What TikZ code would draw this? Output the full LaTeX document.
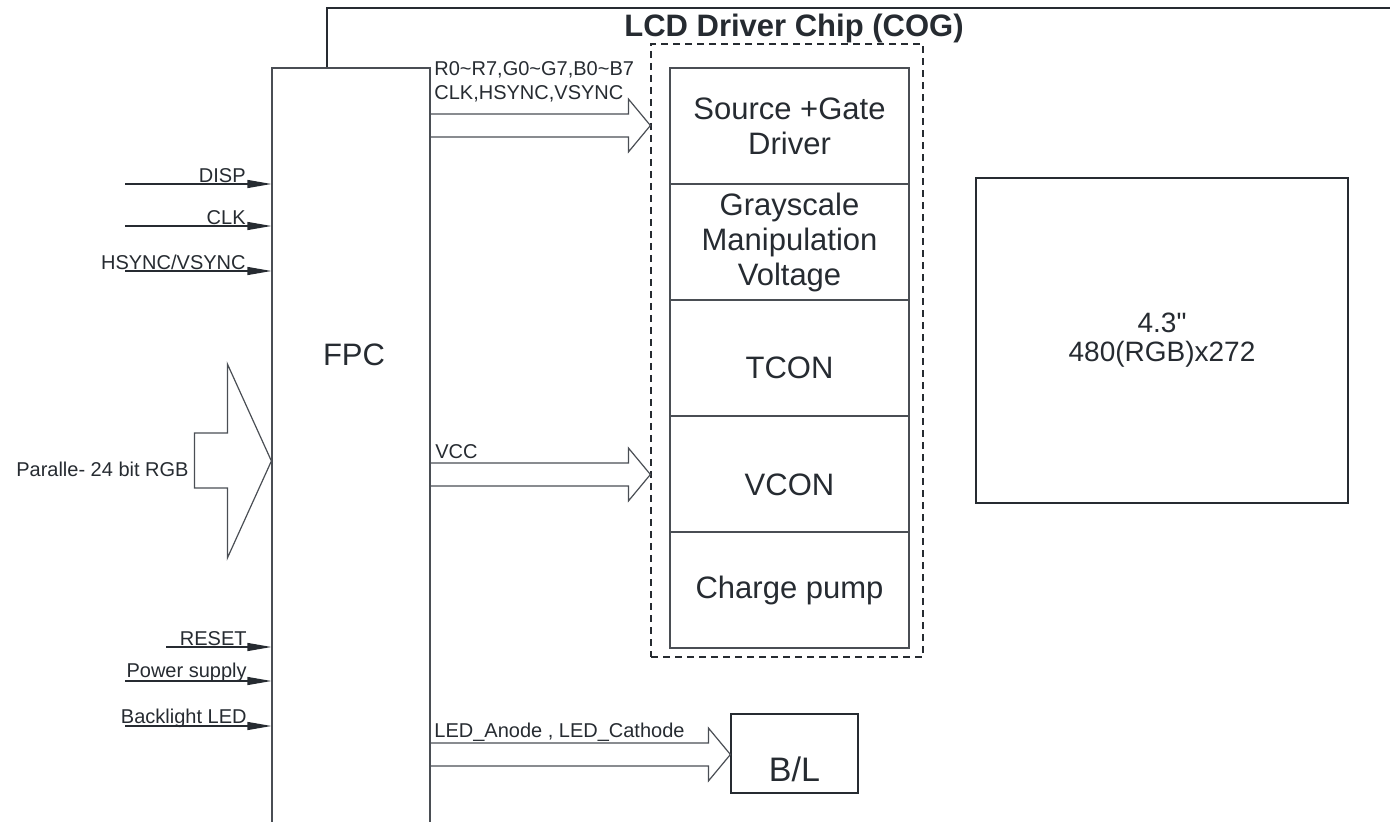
\documentclass[tikz,border=0pt]{standalone}
\usepackage{fontspec}
\setmainfont{Liberation Sans}[Ligatures=TeXOff]
\usetikzlibrary{%
  matrix,%
  calc,%
  arrows.meta%
}
\definecolor{ink}{HTML}{262B31}
\definecolor{rule}{HTML}{4A4E54}
\newcommand{\busarrow}[3]{%
  \draw[wire] ($(#1.east|-0,#3)+(0,-11.5)$) -- ($(#2.west|-0,#3)+(-22,-11.5)$)
    -- ++(0,-15) -- (#2.west|-0,#3) -- ($(#2.west|-0,#3)+(-22,26.5)$)
    -- ++(0,-15) -- ($(#1.east|-0,#3)+(0,11.5)$);%
}

\begin{document}
\begin{tikzpicture}[x=0.5pt,y=-0.5pt,
  wire/.style={draw=rule,line width=0.6pt},
  box/.style={draw=rule,line width=0.6pt,inner sep=0pt},
  lbl/.style={text=ink,font=\fontsize{10}{12}\selectfont,inner sep=0pt},
  big/.style={text=ink,font=\fontsize{15.5}{17.5}\selectfont,align=center},
  cell/.style={box,big,anchor=center,minimum width=119.5pt,minimum height=58pt},
  sig/.style={draw=ink,line width=0.6pt,-{Triangle[length=12pt,width=4pt]}}]
\useasboundingbox (0,0) rectangle (1390,822);
\node[box,minimum width=79pt,minimum height=382pt] (fpc) at (351,450) {};
\node[big] (fpctxt) at (354,355) {FPC};
\draw[wire,draw=ink] (327,0 |- fpc.north) |- (1400,8);
\node[text=ink,font=\bfseries\fontsize{15.5}{18}\selectfont,anchor=base] (title) at (794,37) {LCD Driver Chip (COG)};
\node[box,draw=ink,dash pattern=on 3.5pt off 2.5pt,minimum width=136pt,minimum height=306.5pt] (cog) at (787,350.5) {};
\matrix[row sep={58pt,between origins}] (chip) at (789.5,358)
{
\node[cell] (drv) {Source +Gate\\Driver}; \\
\node[cell] (gray) {Grayscale\\Manipulation\\Voltage}; \\
\node[cell,text height=21pt,text depth=0pt] (tcon) {TCON}; \\
\node[cell,text height=21pt,text depth=0pt] (vcon) {VCON}; \\
\node[cell] (pump) {Charge pump}; \\
};
\node[box,big,draw=ink,font=\fontsize{14}{14.5}\selectfont,minimum width=186pt,minimum height=162.5pt] (lcd) at (1162,340.5) {4.3"\\480(RGB)x272};
\node[box,big,draw=ink,font=\fontsize{17}{20}\selectfont,text height=28pt,text depth=0pt,minimum width=63.5pt,minimum height=39.5pt] (bl) at (794.5,753.5) {B/L};
% buses out of the FPC
\busarrow{fpc}{cog}{125.5}
\busarrow{fpc}{cog}{474.5}
\busarrow{fpc}{bl}{754.5}
\node[lbl,anchor=base west] (bits) at (434,76) {R0\textasciitilde R7,G0\textasciitilde G7,B0\textasciitilde B7};
\node[lbl,anchor=base west] (ctrl) at (434,100) {CLK,HSYNC,VSYNC};
\node[lbl,anchor=base west] (vcc) at (435,459) {VCC};
\node[lbl,anchor=base west] (ledlbl) at (434,737) {LED\_Anode , LED\_Cathode};
% parallel RGB input
\draw[wire] (fpc.west |- 0,461) -- ++(-44,-97) -- ++(0,69) -- ++(-33,0) -- ++(0,55)
  -- ++(33,0) -- ++(0,70) -- cycle;
\node[lbl,anchor=base east] (rgbin) at (189,477) {Paralle- 24 bit RGB};
% single inputs
\coordinate (dispin) at (125,184);
\coordinate (clkin) at (125,226);
\coordinate (syncin) at (125,271);
\coordinate (rstin) at (166,647);
\coordinate (pwrin) at (125,681);
\coordinate (ledin) at (125,726);
\node[lbl,anchor=base east] (disp) at (246,183) {DISP};
\node[lbl,anchor=base east] (clk) at (246,225) {CLK};
\node[lbl,anchor=base east] (sync) at (246,270) {HSYNC/VSYNC};
\node[lbl,anchor=base east] (rst) at (247,645) {RESET};
\node[lbl,anchor=base east] (pwr) at (247,677) {Power supply};
\node[lbl,anchor=base east] (led) at (247,723) {Backlight LED};
\path (dispin) edge[sig] (fpc.west |- dispin)
      (clkin) edge[sig] (fpc.west |- clkin)
      (syncin) edge[sig] (fpc.west |- syncin)
      (rstin) edge[sig] (fpc.west |- rstin)
      (pwrin) edge[sig] (fpc.west |- pwrin)
      (ledin) edge[sig] (fpc.west |- ledin)
;
\end{tikzpicture}
\end{document}
